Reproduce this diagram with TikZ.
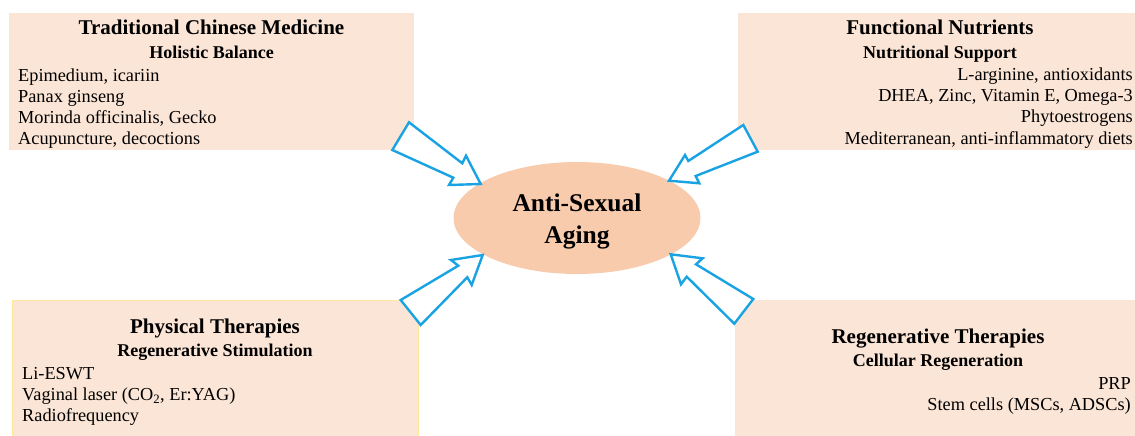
\documentclass[tikz,border=0pt]{standalone}
\usepackage{fontspec}
\setmainfont{Liberation Serif}
\usetikzlibrary{shapes.geometric}
\definecolor{boxfill}{RGB}{251,229,214}
\definecolor{corefill}{RGB}{248,203,173}
\definecolor{arrowblue}{RGB}{26,163,226}
\definecolor{boxedge}{RGB}{255,230,153}
\tikzset{
  panel/.style={fill=boxfill, draw=none},
  ttl/.style={font=\fontsize{21}{25}\selectfont\bfseries, anchor=base, inner sep=0pt},
  subttl/.style={font=\fontsize{18}{21}\selectfont\bfseries, anchor=base, inner sep=0pt},
  bodyL/.style={font=\fontsize{18.3}{21}\selectfont, anchor=base west, inner sep=0pt},
  bodyR/.style={font=\fontsize{18.3}{21}\selectfont, anchor=base east, inner sep=0pt},
  blockarrow/.style={draw=arrowblue, fill=white, line width=2.4pt, line join=miter},
  coretext/.style={font=\fontsize{25.5}{30}\selectfont\bfseries, anchor=base, inner sep=0pt}
}
\begin{document}
\begin{tikzpicture}[x=1pt,y=-1pt]
\useasboundingbox (0,0) rectangle (1135,436);
% panels
\fill[panel] (9,13) rectangle (414,150);
\fill[panel] (738,13) rectangle (1135,150);
\filldraw[panel, draw=boxedge, line width=0.8pt] (12,300) rectangle (418,437);
\fill[panel] (735,300) rectangle (1135,436);
% centre
\node[ellipse, fill=corefill, minimum width=247pt, minimum height=112pt, inner sep=0pt] (core) at (577,218) {};
\node[coretext] (coreA) at (577,211) {Anti-Sexual};
\node[coretext] (coreB) at (577,243.3) {Aging};
% top-left panel text
\node[ttl] (tlT) at (211.5,35) {Traditional Chinese Medicine};
\node[subttl] (tlS) at (211.5,58.3) {Holistic Balance};
\node[bodyL] (tl1) at (18,81.5) {Epimedium, icariin};
\node[bodyL] (tl2) at (18,102.3) {Panax ginseng};
\node[bodyL] (tl3) at (18,123) {Morinda officinalis, Gecko};
\node[bodyL] (tl4) at (18,144) {Acupuncture, decoctions};
% top-right panel text
\node[ttl] (trT) at (940,34.5) {Functional Nutrients};
\node[subttl] (trS) at (940,58.3) {Nutritional Support};
\node[bodyR] (tr1) at (1133,80.5) {L-arginine, antioxidants};
\node[bodyR] (tr2) at (1133,101.5) {DHEA, Zinc, Vitamin E, Omega-3};
\node[bodyR] (tr3) at (1133,122.5) {Phytoestrogens};
\node[bodyR] (tr4) at (1133,144) {Mediterranean, anti-inflammatory diets};
% bottom-left panel text
\node[ttl] (blT) at (215,333.3) {Physical Therapies};
\node[subttl] (blS) at (215,356.7) {Regenerative Stimulation};
\node[bodyL] (bl1) at (22,379.3) {Li-ESWT};
\node[bodyL] (bl2) at (22,400.7) {Vaginal laser (CO\textsubscript{2}, Er:YAG)};
\node[bodyL] (bl3) at (22,421.7) {Radiofrequency};
% bottom-right panel text
\node[ttl] (brT) at (938,343.3) {Regenerative Therapies};
\node[subttl] (brS) at (938,366.7) {Cellular Regeneration};
\node[bodyR] (br1) at (1131,389) {PRP};
\node[bodyR] (br2) at (1131,410.7) {Stem cells (MSCs, ADSCs)};
% block arrows
\draw[blockarrow] (409,122.3) -- (462.3,163.3) -- (466,155.7) -- (480.7,184)
  -- (449,185) -- (453.3,177.7) -- (392.3,150) -- cycle;
\draw[blockarrow] (400.7,300) -- (458.3,265.7) -- (451,260) -- (482.7,255)
  -- (471.7,285) -- (467.3,277.3) -- (420.7,325) -- cycle;
\draw[blockarrow] (743.3,125) -- (688.3,161) -- (685,155) -- (669,180.7)
  -- (699.3,183.3) -- (695.7,176) -- (757.7,151.7) -- cycle;
\draw[blockarrow] (670.7,254.3) -- (702.7,258.3) -- (696,264.3) -- (753.3,299)
  -- (734.3,323.7) -- (686.7,276.7) -- (681,284.3) -- cycle;
\end{tikzpicture}
\end{document}
